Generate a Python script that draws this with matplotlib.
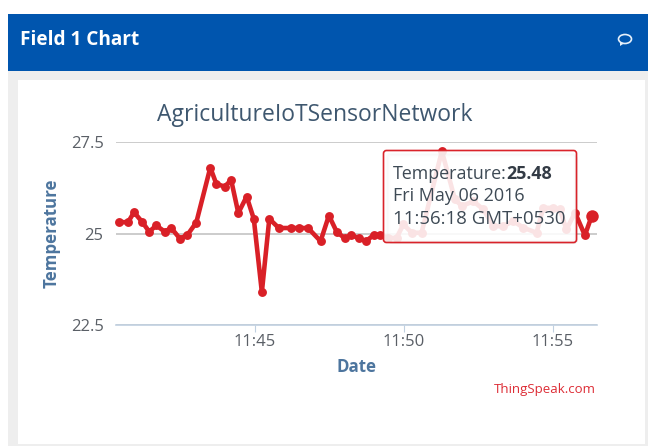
import matplotlib
matplotlib.use("Agg")
import matplotlib.pyplot as plt
from matplotlib.patches import Rectangle, FancyBboxPatch, Ellipse, Polygon

plt.rcParams['font.family'] = ['Open Sans', 'DejaVu Sans']

# minutes past 11:00
minutes = [40.45, 40.74, 40.94, 41.22, 41.45, 41.69, 41.97, 42.19, 42.48, 42.73, 43.03,
           43.50, 43.70, 43.98, 44.20, 44.44, 44.72, 44.96, 45.23, 45.48, 45.80, 46.22,
           46.48, 46.78, 47.20, 47.48, 47.74, 48.01, 48.23, 48.48, 48.73, 48.98, 49.19,
           49.47, 49.75, 49.98, 50.26, 50.59, 51.27, 51.71, 51.94, 52.33, 52.66, 53.00,
           53.33, 53.67, 54.00, 54.45, 54.67, 55.00, 55.23, 55.45, 55.74, 56.07, 56.30]
temperature = [25.31, 25.31, 25.58, 25.31, 25.05, 25.22, 25.05, 25.15, 24.86, 24.96, 25.30,
               26.80, 26.36, 26.28, 26.46, 25.56, 26.01, 25.40, 23.40, 25.40, 25.15, 25.15,
               25.15, 25.15, 24.79, 25.49, 25.05, 24.87, 24.96, 24.87, 24.79, 24.96, 24.97,
               24.88, 24.88, 25.25, 25.02, 25.02, 27.25, 25.93, 25.75, 25.88, 25.66, 25.20,
               25.20, 25.34, 25.16, 25.02, 25.70, 25.70, 25.66, 25.11, 25.57, 24.95, 25.48]
x_ticks = [45, 50, 55]
x_tick_labels = ["11:45", "11:50", "11:55"]
y_ticks = [22.5, 25, 27.5]
y_tick_labels = ["22.5", "25", "27.5"]

W, H = 648, 446
BLUE = "#0055AE"
RED = "#D9232A"
LINE = "#D92027"

fig = plt.figure(figsize=(W / 100, H / 100), dpi=100, facecolor="white")
bg = fig.add_axes([0, 0, 1, 1])
bg.set_xlim(0, W)
bg.set_ylim(H, 0)
bg.axis("off")

bg.add_patch(Rectangle((8, 14), W - 8, H - 14, fc="#EEEEEE", ec="none"))
bg.add_patch(Rectangle((8, 14), W - 8, 57, fc=BLUE, ec="none"))
bg.add_patch(Rectangle((18, 80), 627, 363.5, fc="white", ec="none"))
bg.text(20, 40, "Field 1 Chart", color="white", fontsize=13.7, fontweight="bold", va="center", ha="left")
# speech bubble icon
bg.add_patch(Ellipse((625, 39), 13, 9, fc="none", ec="#E6F0FA", lw=1.2))
bg.add_patch(Polygon([[620, 42], [620, 46], [624, 43.5]], closed=True, fc="#E6F0FA", ec="none"))

left, right, top, bottom = 116, 597, 142, 325
ax = fig.add_axes([left / W, 1 - bottom / H, (right - left) / W, (bottom - top) / H])
ax.patch.set_alpha(0)
px_per_min = (553 - 255) / 10
ax.set_xlim(45 + (left - 255) / px_per_min, 45 + (right - 255) / px_per_min)
ax.set_ylim(22.5, 27.5)
for s in ["top", "left", "right"]:
    ax.spines[s].set_visible(False)
ax.spines["bottom"].set_color("#C0D0E0")
ax.spines["bottom"].set_linewidth(1.2)
ax.grid(axis="y", color="#C4C4C4", lw=1.2)
ax.set_axisbelow(True)
ax.set_xticks(x_ticks, x_tick_labels)
ax.set_yticks(y_ticks, y_tick_labels)
ax.tick_params(axis="x", length=5, color="#C0D0E0", labelcolor="#5A5F66", labelsize=12, pad=1.5)
ax.tick_params(axis="y", length=0, labelcolor="#5A5F66", labelsize=12, pad=9)

ax.plot(minutes, temperature, color=LINE, lw=3.3, marker="o", ms=6.4, mew=0, clip_on=False, zorder=3)
ax.plot(minutes[-1:], temperature[-1:], color=LINE, marker="o", ms=9, mew=0, clip_on=False, zorder=6)

over = fig.add_axes([0, 0, 1, 1])
over.set_xlim(0, W)
over.set_ylim(H, 0)
over.axis("off")
over.patch.set_alpha(0)

# tooltip
for off, a in [(3, .05), (2, .08), (1, .12)]:
    over.add_patch(FancyBboxPatch((386 + off, 153 + off), 188, 87, boxstyle="round,pad=0,rounding_size=3",
                                  fc="none", ec="black", alpha=a, lw=1.5, mutation_aspect=1))
over.add_patch(FancyBboxPatch((383.5, 150.5), 193, 92, boxstyle="round,pad=0,rounding_size=3",
                              fc=(1, 1, 1, .88), ec=RED, lw=1.2))
t = over.text(393, 174, "Temperature:", color="#3E4A55", fontsize=12.9, va="center", ha="left")
fig.canvas.draw()
bb = t.get_window_extent()
over.text(bb.x1, 174, "25.48", color="#333B45", fontsize=12.9, fontweight="bold", va="center", ha="left")
over.text(393, 196, "Fri May 06 2016", color="#3E4A55", fontsize=13, va="center", ha="left")
over.text(393, 218.5, "11:56:18 GMT+0530", color="#3E4A55", fontsize=13.4, va="center", ha="left")

# titles
over.text(315, 115, "AgricultureIoTSensorNetwork", color="#3E576F", fontsize=16.5, va="center", ha="center")
over.text(52, 233, "Temperature", color="#4D759E", fontsize=12.2, fontweight="bold", rotation=90, va="center", ha="center")
over.text(357, 367, "Date", color="#4D759E", fontsize=12.2, fontweight="bold", va="center", ha="center")
over.text(596, 390, "ThingSpeak.com", color="#DD2C35", fontsize=9.5, va="center", ha="right")

fig.savefig("out.png", dpi=100)
